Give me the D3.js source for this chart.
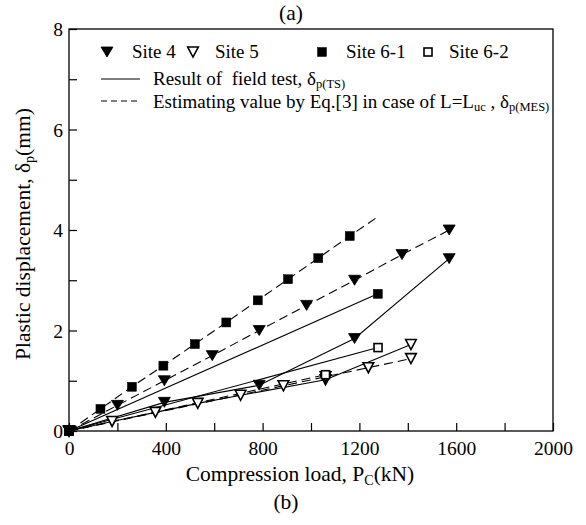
<!DOCTYPE html>
<html>
<head>
<meta charset="utf-8">
<script src="https://cdn.jsdelivr.net/npm/d3@7"></script>
<style>
  html, body { margin: 0; padding: 0; background: #fff; }
  svg text { font-family: "Liberation Serif", "Times New Roman", serif; white-space: pre; fill: #000; }
</style>
</head>
<body>
<svg id="chart" width="586" height="525"></svg>
<script>
// Axis ticks
const xTicks = [0, 400, 800, 1200, 1600, 2000];
const xMinorTicks = [200, 600, 1000, 1400, 1800];
const yTicks = [0, 2, 4, 6, 8];
const yMinorTicks = [1, 3, 5, 7];

// Site 4 – measured (field test) and estimated
const site4LoadTS = [0, 394, 786, 1180, 1571];
const site4DispTS = [0, 0.57, 0.91, 1.84, 3.43];
const site4LoadMES = [0, 200, 394, 592, 786, 982, 1180, 1376, 1571];
const site4DispMES = [0, 0.51, 1.00, 1.50, 2.00, 2.50, 3.00, 3.51, 4.00];

// Site 5
const site5LoadTS = [0, 178, 357, 532, 709, 1060, 1413];
const site5DispTS = [0, 0.19, 0.37, 0.55, 0.71, 1.02, 1.72];
const site5LoadMES = [0, 886, 1060, 1237, 1413];
const site5DispMES = [0, 0.90, 1.08, 1.26, 1.44];

// Site 6-1
const site61LoadTS = [0, 1276];
const site61DispTS = [0, 2.73];
const site61LoadMES = [0, 130, 260, 390, 520, 650, 780, 905, 1030, 1160, 1278];
const site61DispMES = [0, 0.44, 0.88, 1.30, 1.73, 2.16, 2.60, 3.02, 3.44, 3.88, 4.27];

// Site 6-2
const site62LoadTS = [0, 1277];
const site62DispTS = [0, 1.66];
const site62LoadMES = [0, 1060];
const site62DispMES = [0, 1.12];

const zip = (xs, ys) => xs.map((v, i) => [v, ys[i]]);

// kind: "tri" / "triOpen" / "sq" / "sqOpen"; lastMarked: whether the end point carries a marker
const series = [
  { pts: zip(site5LoadTS, site5DispTS), dash: false, kind: "triOpen", lastMarked: true },
  { pts: zip(site5LoadMES, site5DispMES), dash: true, kind: "triOpen", lastMarked: true },
  { pts: zip(site62LoadTS, site62DispTS), dash: false, kind: "sqOpen", lastMarked: true },
  { pts: zip(site62LoadMES, site62DispMES), dash: true, kind: "sqOpen", lastMarked: true },
  { pts: zip(site4LoadTS, site4DispTS), dash: false, kind: "tri", lastMarked: true },
  { pts: zip(site4LoadMES, site4DispMES), dash: true, kind: "tri", lastMarked: true },
  { pts: zip(site61LoadTS, site61DispTS), dash: false, kind: "sq", lastMarked: true },
  { pts: zip(site61LoadMES, site61DispMES), dash: true, kind: "sq", lastMarked: false }
];

const FONT = "Liberation Serif";
const TICK_FS = 19.5;
const LEG_FS = 19;
const LEG_SUB = 12.5;
const TITLE_FS = 21.5;
const TITLE_SUB = 14;

const svg = d3.select("#chart");
const plotLeft = 69, plotRight = 553, plotTop = 29, plotBottom = 431;

const x = d3.scaleLinear().domain([0, 2000]).range([plotLeft, plotRight]);
const y = d3.scaleLinear().domain([0, 8]).range([plotBottom, plotTop]);

// Frame
svg.append("rect")
  .attr("x", plotLeft).attr("y", plotTop)
  .attr("width", plotRight - plotLeft).attr("height", plotBottom - plotTop)
  .attr("fill", "none").attr("stroke", "#000").attr("stroke-width", 1.3);

// Inward ticks on the bottom axis
const xAxis = d3.axisBottom(x)
  .tickValues(xTicks.concat(xMinorTicks))
  .tickSizeInner(-8).tickSizeOuter(0)
  .tickFormat(d => xTicks.includes(d) ? d : "");
const gx = svg.append("g").attr("transform", `translate(0,${plotBottom})`).call(xAxis)
  .attr("font-family", FONT).attr("font-size", TICK_FS);
gx.select(".domain").remove();
gx.selectAll("line").attr("stroke", "#000").attr("stroke-width", 1.2);
gx.selectAll("text").attr("y", 10).attr("dy", "0.71em");

// Inward ticks on the left axis
const yAxis = d3.axisLeft(y)
  .tickValues(yTicks.concat(yMinorTicks))
  .tickSizeInner(-8).tickSizeOuter(0)
  .tickFormat(d => yTicks.includes(d) ? d : "");
const gy = svg.append("g").attr("transform", `translate(${plotLeft},0)`).call(yAxis)
  .attr("font-family", FONT).attr("font-size", TICK_FS);
gy.select(".domain").remove();
gy.selectAll("line").attr("stroke", "#000").attr("stroke-width", 1.2);
gy.selectAll("text").attr("x", -6).attr("dy", "0.34em");

// Lines
const line = d3.line().x(d => x(d[0])).y(d => y(d[1]));
const plot = svg.append("g");
series.forEach(s => {
  plot.append("path")
    .attr("d", line(s.pts))
    .attr("fill", "none")
    .attr("stroke", "#000")
    .attr("stroke-width", 1.1)
    .attr("stroke-dasharray", s.dash ? "9,5" : null);
});

// Marker drawing
function marker(g, kind, cx, cy) {
  if (kind === "tri" || kind === "triOpen") {
    const open = kind === "triOpen";
    const w = open ? 5.3 : 6, h = 10;
    g.append("path")
      .attr("d", `M${cx - w},${cy - h / 2} L${cx + w},${cy - h / 2} L${cx},${cy + h / 2} Z`)
      .attr("fill", open ? "#fff" : "#000")
      .attr("stroke", "#000")
      .attr("stroke-width", open ? 1.6 : 0.8);
  } else {
    const open = kind === "sqOpen";
    const s = open ? 8 : 9;
    g.append("rect")
      .attr("x", cx - s / 2).attr("y", cy - s / 2)
      .attr("width", s).attr("height", s)
      .attr("fill", open ? "#fff" : "#000")
      .attr("stroke", "#000")
      .attr("stroke-width", open ? 1.6 : 0.5);
  }
}

series.forEach(s => {
  s.pts.forEach((p, i) => {
    if (i === s.pts.length - 1 && !s.lastMarked) return;
    marker(plot, s.kind, x(p[0]), y(p[1]));
  });
});

// Legend: symbols row
const legend = svg.append("g").attr("font-family", FONT).attr("font-size", LEG_FS);
const symRow = [
  { kind: "tri", label: "Site 4", sx: 107, tx: 132 },
  { kind: "triOpen", label: "Site 5", sx: 193, tx: 215 },
  { kind: "sq", label: "Site 6-1", sx: 322, tx: 346 },
  { kind: "sqOpen", label: "Site 6-2", sx: 428, tx: 449 }
];
symRow.forEach(r => {
  marker(legend, r.kind, r.sx, 52);
  legend.append("text").attr("x", r.tx).attr("y", 58).text(r.label);
});

// Legend: line styles
legend.append("line").attr("x1", 101).attr("x2", 140).attr("y1", 79).attr("y2", 79)
  .attr("stroke", "#000").attr("stroke-width", 1.1);
legend.append("line").attr("x1", 101).attr("x2", 140).attr("y1", 101).attr("y2", 101)
  .attr("stroke", "#000").attr("stroke-width", 1.1).attr("stroke-dasharray", "6,4");

const t1 = legend.append("text").attr("x", 153).attr("y", 85);
t1.append("tspan").text("Result of  field test, δ");
t1.append("tspan").text("p(TS)").attr("dy", 3).attr("font-size", LEG_SUB);

const t2 = legend.append("text").attr("x", 153).attr("y", 108);
t2.append("tspan").text("Estimating value by Eq.[3] in case of L=L");
t2.append("tspan").text("uc").attr("dy", 3).attr("font-size", LEG_SUB);
t2.append("tspan").text(" , δ").attr("dy", -3);
t2.append("tspan").text("p(MES)").attr("dy", 3).attr("font-size", LEG_SUB);

// Axis titles
const xt = svg.append("text").attr("x", 300).attr("y", 481)
  .attr("text-anchor", "middle").attr("font-family", FONT).attr("font-size", TITLE_FS);
xt.append("tspan").text("Compression load, P");
xt.append("tspan").text("C").attr("dy", 4).attr("font-size", TITLE_SUB);
xt.append("tspan").text("(kN)").attr("dy", -4);

const yt = svg.append("text")
  .attr("transform", "translate(30,234) rotate(-90)")
  .attr("text-anchor", "middle").attr("font-family", FONT).attr("font-size", TITLE_FS);
yt.append("tspan").text("Plastic displacement, δ");
yt.append("tspan").text("p").attr("dy", 4).attr("font-size", TITLE_SUB);
yt.append("tspan").text("(mm)").attr("dy", -4);

// Panel captions
svg.append("text").attr("x", 291).attr("y", 20).attr("text-anchor", "middle")
  .attr("font-family", FONT).attr("font-size", TITLE_FS).text("(a)");
svg.append("text").attr("x", 286).attr("y", 509).attr("text-anchor", "middle")
  .attr("font-family", FONT).attr("font-size", TITLE_FS).text("(b)");
</script>
</body>
</html>
